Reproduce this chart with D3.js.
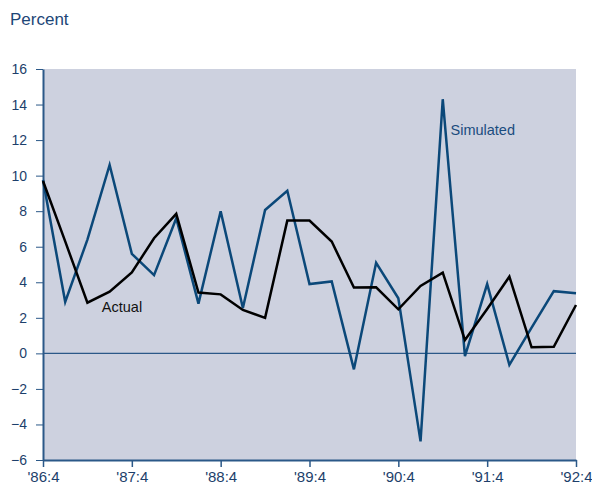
<!DOCTYPE html>
<html lang="en">
<head>
    <meta charset="UTF-8">
    <title>Actual vs Simulated</title>
    <script src="https://d3js.org/d3.v7.min.js"></script>
    <style>
        body { margin: 0; background: #fff; }
        text { font-family: "Liberation Sans", Arial, Helvetica, sans-serif; }
        .axis path, .axis line { stroke: #2b5888; }
        .axis text { fill: #1d3f6b; font-size: 14px; }
    </style>
</head>
<body>
<svg width="592" height="484"></svg>
<script>
// quarters from '86:4 to '92:4
const quarters = d3.range(25);
const tickLabels = ["'86:4", "'87:4", "'88:4", "'89:4", "'90:4", "'91:4", "'92:4"];

const simulated = [9.75, 2.9, 6.4, 10.6, 5.6, 4.4, 7.6, 2.8, 8.0, 2.55, 8.07, 9.15, 3.9,
    4.05, -0.9, 5.1, 3.1, -4.95, 14.3, -0.15, 3.9, -0.65, 1.45, 3.5, 3.38];
const actual = [9.7, 6.3, 2.85, 3.47, 4.55, 6.48, 7.85, 3.42, 3.32, 2.44, 2.0, 7.47, 7.47,
    6.29, 3.7, 3.72, 2.48, 3.79, 4.54, 0.75, 2.5, 4.32, 0.34, 0.37, 2.72];

const svg = d3.select("svg");
const margin = {top: 69, right: 16, bottom: 24, left: 43};
const width = 592 - margin.left - margin.right;
const height = 484 - margin.top - margin.bottom;

const g = svg.append("g")
    .attr("transform", `translate(${margin.left},${margin.top})`);

const x = d3.scaleLinear().domain([0, 24]).range([0, width]);
const y = d3.scaleLinear().domain([-6, 16]).range([height, 0]);

g.append("rect")
    .attr("width", width)
    .attr("height", height)
    .attr("fill", "#cdd1df");

// zero line
g.append("line")
    .attr("x1", 0).attr("x2", width)
    .attr("y1", y(0)).attr("y2", y(0))
    .attr("stroke", "#2b5888")
    .attr("stroke-width", 1.2);

const yAxis = g.append("g")
    .attr("class", "axis")
    .call(d3.axisLeft(y).tickValues(d3.range(-6, 17, 2)).tickSize(7).tickPadding(9).tickSizeOuter(0));
yAxis.select(".domain").attr("stroke-width", 2);

const xAxis = g.append("g")
    .attr("class", "axis")
    .attr("transform", `translate(0,${height})`)
    .call(d3.axisBottom(x).tickValues(d3.range(0, 25, 4))
        .tickFormat((d, i) => tickLabels[i]).tickSize(7).tickSizeOuter(0));
xAxis.select(".domain").attr("stroke-width", 2);
xAxis.selectAll("line").attr("stroke-width", 1.5);
xAxis.selectAll("text")
    .attr("y", 22)
    .attr("dy", 0)
    .style("font-size", "15px");

const line = d3.line()
    .x((d, i) => x(quarters[i]))
    .y(d => y(d));

g.append("path")
    .datum(simulated)
    .attr("fill", "none")
    .attr("stroke", "#0b4879")
    .attr("stroke-width", 2.5)
    .attr("stroke-linejoin", "miter")
    .attr("d", line);

g.append("path")
    .datum(actual)
    .attr("fill", "none")
    .attr("stroke", "#000")
    .attr("stroke-width", 2.5)
    .attr("d", line);

// series labels
g.append("text")
    .attr("x", x(2.65))
    .attr("y", y(2.32))
    .attr("font-size", 14.5)
    .attr("fill", "#111")
    .text("Actual");

g.append("text")
    .attr("x", x(18.35))
    .attr("y", y(12.3))
    .attr("font-size", 14.5)
    .attr("fill", "#1a4c7e")
    .text("Simulated");

svg.append("text")
    .attr("x", 10)
    .attr("y", 25)
    .attr("font-size", 17)
    .attr("fill", "#1d4677")
    .text("Percent");
</script>
</body>
</html>
